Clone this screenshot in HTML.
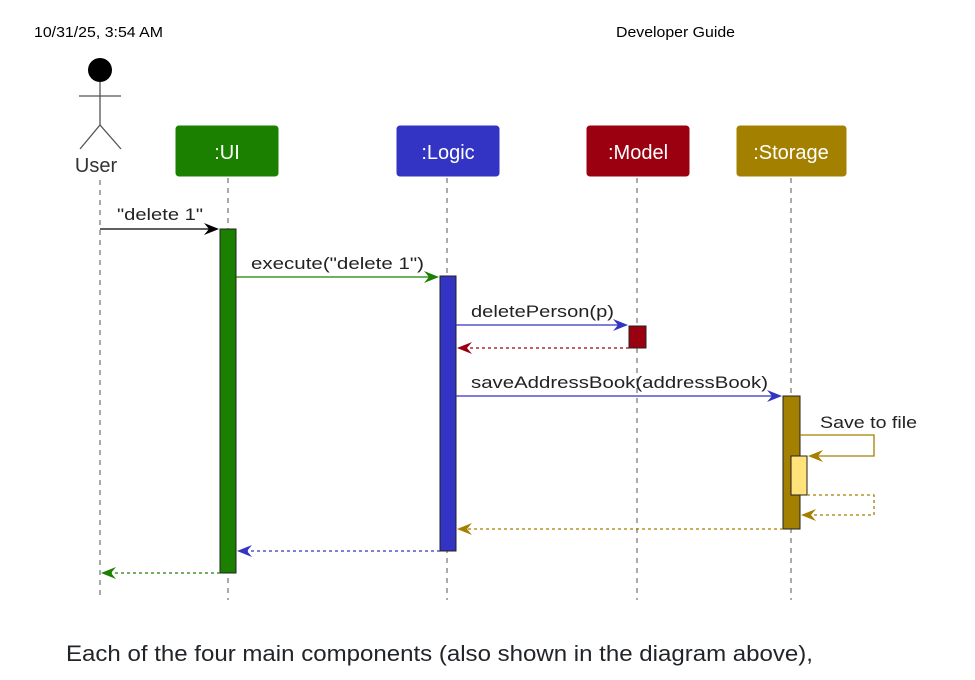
<!DOCTYPE html>
<html><head><meta charset="utf-8"><style>
html,body{margin:0;padding:0;background:#fff;width:975px;height:680px;overflow:hidden}
svg{display:block}
</style></head><body>
<svg width="975" height="680" viewBox="0 0 975 680" xmlns="http://www.w3.org/2000/svg" font-family="Liberation Sans, sans-serif">
<text x="34" y="37" font-size="15" fill="#000" textLength="129" lengthAdjust="spacingAndGlyphs">10/31/25, 3:54 AM</text>
<text x="616" y="37" font-size="15" fill="#000" textLength="119" lengthAdjust="spacingAndGlyphs">Developer Guide</text>

<!-- lifelines -->
<g stroke="#555" stroke-width="1" stroke-dasharray="5,5">
<line x1="100" y1="180" x2="100" y2="600"/>
<line x1="228" y1="178" x2="228" y2="600"/>
<line x1="447" y1="178" x2="447" y2="600"/>
<line x1="637" y1="178" x2="637" y2="600"/>
<line x1="791" y1="178" x2="791" y2="600"/>
</g>

<!-- actor -->
<circle cx="100" cy="70" r="12" fill="#000"/>
<g stroke="#555" stroke-width="1.3" fill="none">
<line x1="100" y1="82" x2="100" y2="125"/>
<line x1="79" y1="96" x2="121" y2="96"/>
<polyline points="80,149 100,125 121,149"/>
</g>
<text x="96" y="172" font-size="20" fill="#333" text-anchor="middle">User</text>

<!-- participant boxes -->
<rect x="176" y="126" width="102" height="50" rx="3" fill="#1b8000" stroke="#1b8000"/>
<text x="227" y="159" font-size="20" fill="#fff" text-anchor="middle">:UI</text>
<rect x="397" y="126" width="102" height="50" rx="3" fill="#3333c4" stroke="#3333c4"/>
<text x="448" y="159" font-size="20" fill="#fff" text-anchor="middle">:Logic</text>
<rect x="587" y="126" width="102" height="50" rx="3" fill="#9a0010" stroke="#9a0010"/>
<text x="638" y="159" font-size="20" fill="#fff" text-anchor="middle">:Model</text>
<rect x="737" y="126" width="109" height="50" rx="3" fill="#a38000" stroke="#a38000"/>
<text x="791" y="159" font-size="20" fill="#fff" text-anchor="middle">:Storage</text>

<!-- activations -->
<rect x="220" y="229" width="16" height="344" fill="#1b8000" stroke="#222" stroke-width="1"/>
<rect x="440" y="276" width="16" height="275" fill="#3333c4" stroke="#222" stroke-width="1"/>
<rect x="629" y="326" width="17" height="22" fill="#9a0010" stroke="#222" stroke-width="1"/>
<rect x="783" y="396" width="17" height="133" fill="#a38000" stroke="#222" stroke-width="1"/>
<rect x="791" y="456" width="16" height="39" fill="#ffe27a" stroke="#222" stroke-width="1"/>

<!-- messages -->
<g font-size="17" fill="#222" lengthAdjust="spacingAndGlyphs">
<text x="117" y="220" textLength="86" lengthAdjust="spacingAndGlyphs">"delete 1"</text>
<text x="251" y="269" textLength="173" lengthAdjust="spacingAndGlyphs">execute("delete 1")</text>
<text x="471" y="317" textLength="143" lengthAdjust="spacingAndGlyphs">deletePerson(p)</text>
<text x="471" y="388" textLength="297" lengthAdjust="spacingAndGlyphs">saveAddressBook(addressBook)</text>
<text x="820" y="428" textLength="97" lengthAdjust="spacingAndGlyphs">Save to file</text>
</g>

<line x1="100" y1="229" x2="216" y2="229" stroke="#000" stroke-width="1.3"/>
<polygon points="219,229 204,223 209,229 204,235" fill="#000"/>

<line x1="236" y1="277" x2="436" y2="277" stroke="#1b8000" stroke-width="1.3"/>
<polygon points="439,277 424,271 429,277 424,283" fill="#1b8000"/>

<line x1="456" y1="325" x2="625" y2="325" stroke="#3333c4" stroke-width="1.3"/>
<polygon points="628,325 613,319 618,325 613,331" fill="#3333c4"/>

<line x1="629" y1="348" x2="460" y2="348" stroke="#9a0010" stroke-width="1.3" stroke-dasharray="3,3"/>
<polygon points="457,348 472,342 467,348 472,354" fill="#9a0010"/>

<line x1="456" y1="396" x2="779" y2="396" stroke="#3333c4" stroke-width="1.3"/>
<polygon points="782,396 767,390 772,396 767,402" fill="#3333c4"/>

<polyline points="800,435 874,435 874,456 811,456" fill="none" stroke="#a38000" stroke-width="1.3"/>
<polygon points="808,456 823,450 818,456 823,462" fill="#a38000"/>

<polyline points="807,495 874,495 874,515 804,515" fill="none" stroke="#a38000" stroke-width="1.3" stroke-dasharray="3,3"/>
<polygon points="801,515 816,509 811,515 816,521" fill="#a38000"/>

<line x1="783" y1="529" x2="460" y2="529" stroke="#a38000" stroke-width="1.3" stroke-dasharray="3,3"/>
<polygon points="457,529 472,523 467,529 472,535" fill="#a38000"/>

<line x1="440" y1="551" x2="240" y2="551" stroke="#3333c4" stroke-width="1.3" stroke-dasharray="3,3"/>
<polygon points="237,551 252,545 247,551 252,557" fill="#3333c4"/>

<line x1="220" y1="573" x2="104" y2="573" stroke="#1b8000" stroke-width="1.3" stroke-dasharray="3,3"/>
<polygon points="101,573 116,567 111,573 116,579" fill="#1b8000"/>

<text x="66" y="661" font-size="22" fill="#212529" textLength="747" lengthAdjust="spacingAndGlyphs">Each of the four main components (also shown in the diagram above),</text>
</svg>
</body></html>
